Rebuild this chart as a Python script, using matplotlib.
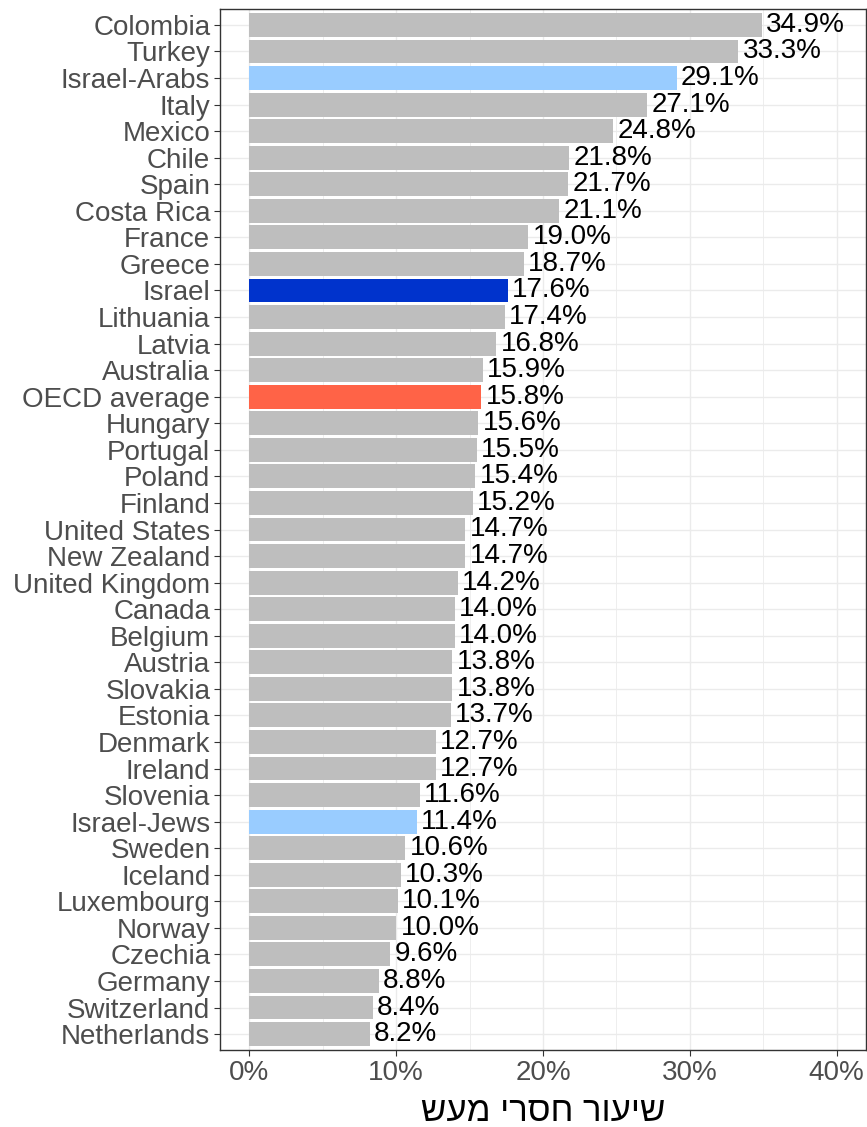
import matplotlib
matplotlib.use('Agg')
import matplotlib.pyplot as plt
import numpy as np

countries = ['Colombia', 'Turkey', 'Israel-Arabs', 'Italy', 'Mexico', 'Chile', 'Spain',
             'Costa Rica', 'France', 'Greece', 'Israel', 'Lithuania', 'Latvia', 'Australia',
             'OECD average', 'Hungary', 'Portugal', 'Poland', 'Finland', 'United States',
             'New Zealand', 'United Kingdom', 'Canada', 'Belgium', 'Austria', 'Slovakia',
             'Estonia', 'Denmark', 'Ireland', 'Slovenia', 'Israel-Jews', 'Sweden', 'Iceland',
             'Luxembourg', 'Norway', 'Czechia', 'Germany', 'Switzerland', 'Netherlands']
values = [34.9, 33.3, 29.1, 27.1, 24.8, 21.8, 21.7, 21.1, 19.0, 18.7, 17.6, 17.4, 16.8, 15.9,
          15.8, 15.6, 15.5, 15.4, 15.2, 14.7, 14.7, 14.2, 14.0, 14.0, 13.8, 13.8, 13.7, 12.7,
          12.7, 11.6, 11.4, 10.6, 10.3, 10.1, 10.0, 9.6, 8.8, 8.4, 8.2]
highlight = {'Israel-Arabs': '#99CCFF', 'Israel-Jews': '#99CCFF',
             'Israel': '#0033CC', 'OECD average': '#FF6347'}
xlabel = 'שיעור חסרי מעש'

plt.rcParams['font.family'] = ['Liberation Sans', 'DejaVu Sans']

fig = plt.figure(figsize=(8.67, 11.27), dpi=100)
ax = fig.add_axes([220 / 867, 77 / 1127, 646 / 867, 1041 / 1127])

y = np.arange(len(countries))[::-1]
colors = [highlight.get(c, '#BEBEBE') for c in countries]
ax.barh(y, values, height=0.9, color=colors, zorder=2)
for yi, v in zip(y, values):
    ax.text(v + 0.3, yi, f'{v:.1f}%', va='center', ha='left', fontsize=20,
            color='black', zorder=3)

ax.set_xlim(-2, 42)
ax.set_ylim(-0.6, len(countries) - 0.4)
ax.set_yticks(y)
ax.set_yticklabels(countries, fontsize=20, color='#4D4D4D')
ax.set_xticks([0, 10, 20, 30, 40])
ax.set_xticklabels(['0%', '10%', '20%', '30%', '40%'], fontsize=20, color='#4D4D4D')
ax.set_xticks([5, 15, 25, 35], minor=True)
ax.grid(True, which='major', color='#EBEBEB', linewidth=1, zorder=0)
ax.grid(True, which='minor', axis='x', color='#EBEBEB', linewidth=0.6, zorder=0)
ax.tick_params(axis='both', which='major', length=4, color='#333333', pad=3)
ax.tick_params(axis='x', which='minor', length=0)
for s in ax.spines.values():
    s.set_color('#333333')
    s.set_linewidth(1)
ax.set_xlabel(xlabel[::-1], fontsize=25, color='black', labelpad=7)

plt.savefig('out.png', dpi=100)
